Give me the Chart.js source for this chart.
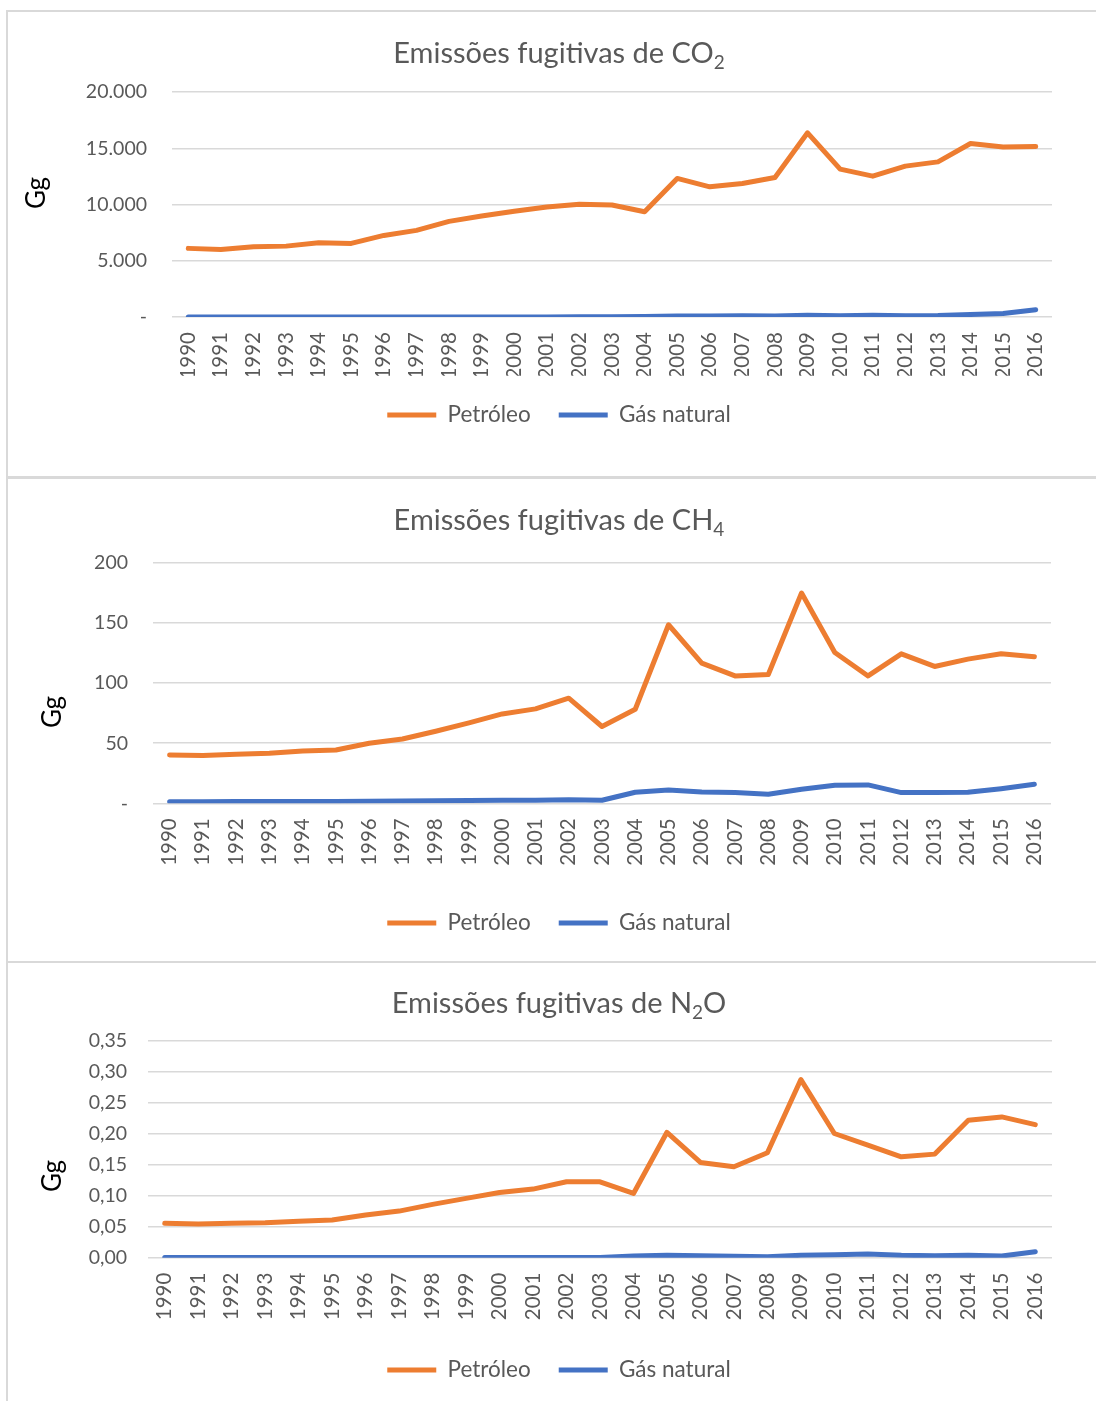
<!DOCTYPE html>
<html>
<head>
<meta charset="utf-8">
<script src="https://cdn.jsdelivr.net/npm/chart.js@4.4.1/dist/chart.umd.min.js"></script>
<style>
  html, body { margin: 0; padding: 0; background: #ffffff; overflow: hidden; width: 1096px; height: 1401px; }
  .panel { position: absolute; border: 2px solid #D9D9D9; box-sizing: border-box; background: #ffffff; }
  .panel canvas { position: absolute; left: 0; top: 0; }
</style>
</head>
<body>
<div class="panel" style="left:6px; top:10px; width:1106px; height:468px;"><canvas id="chartCO2"></canvas></div>
<div class="panel" style="left:6px; top:477px; width:1106px; height:486px;"><canvas id="chartCH4"></canvas></div>
<div class="panel" style="left:6px; top:961px; width:1106px; height:460px;"><canvas id="chartN2O"></canvas></div>
<script>
// Years on the category axis
const years = ['1990','1991','1992','1993','1994','1995','1996','1997','1998','1999',
               '2000','2001','2002','2003','2004','2005','2006','2007','2008','2009',
               '2010','2011','2012','2013','2014','2015','2016'];

// Fugitive CO2 emissions (Gg)
const co2Petroleo   = [6100, 6010, 6240, 6300, 6600, 6540, 7250, 7700, 8500, 8970,
                       9400, 9770, 10030, 9950, 9350, 12320, 11570, 11870, 12400, 16370,
                       13140, 12520, 13410, 13790, 15420, 15120, 15160];
const co2GasNatural = [10, 10, 10, 10, 10, 10, 10, 10, 10, 10,
                       10, 10, 15, 20, 50, 90, 80, 110, 90, 150,
                       120, 150, 120, 130, 230, 310, 640];
const co2TickLabels = ['-', '5.000', '10.000', '15.000', '20.000'];

// Fugitive CH4 emissions (Gg)
const ch4Petroleo   = [40.3, 39.7, 40.8, 41.6, 43.6, 44.4, 50.0, 53.5, 60.0, 67.0,
                       74.4, 78.6, 87.5, 63.9, 78.3, 148.6, 116.7, 106.0, 107.2, 175.0,
                       125.5, 106.0, 124.4, 113.9, 120.0, 124.4, 121.9];
const ch4GasNatural = [1.3, 1.3, 1.4, 1.4, 1.5, 1.5, 1.8, 1.9, 2.1, 2.3,
                       2.5, 2.6, 3.0, 2.5, 9.2, 11.1, 9.4, 8.9, 7.5, 11.7,
                       15.0, 15.3, 8.9, 8.9, 9.2, 12.2, 15.8];
const ch4TickLabels = ['-', '50', '100', '150', '200'];

// Fugitive N2O emissions (Gg)
const n2oPetroleo   = [0.0555, 0.0545, 0.0555, 0.0565, 0.0587, 0.0608, 0.0689, 0.0753, 0.0861, 0.0958,
                       0.1054, 0.1108, 0.1226, 0.1226, 0.1038, 0.2025, 0.1539, 0.1468, 0.1694, 0.2877,
                       0.2006, 0.1817, 0.1630, 0.1673, 0.2221, 0.2274, 0.2150];
const n2oGasNatural = [0.0005, 0.0005, 0.0005, 0.0005, 0.0005, 0.0005, 0.0005, 0.0005, 0.0005, 0.0005,
                       0.0005, 0.0005, 0.0005, 0.0005, 0.0027, 0.0038, 0.0032, 0.0022, 0.0016, 0.0038,
                       0.0048, 0.0059, 0.0038, 0.0032, 0.0038, 0.0027, 0.0097];
const n2oTickLabels = ['0,00', '0,05', '0,10', '0,15', '0,20', '0,25', '0,30', '0,35'];

const seriesNames = ['Petróleo', 'Gás natural'];

const ORANGE = '#ED7D31';
const BLUE = '#4472C4';
const TEXT_GRAY = '#595959';
const GRID = '#D9D9D9';
const FONT = 'Lato, "Open Sans", sans-serif';

// Draws the chart heading (with a subscript) and the rotated unit label
const panelText = {
  id: 'panelText',
  afterDraw(chart, args, opts) {
    const ctx = chart.ctx;
    ctx.save();
    const mainFont = `400 ${opts.titleSize}px ${FONT}`;
    const subFont = `400 ${opts.subSize}px ${FONT}`;
    ctx.font = mainFont;
    const w1 = ctx.measureText(opts.before).width;
    const w3 = ctx.measureText(opts.after).width;
    ctx.font = subFont;
    const w2 = ctx.measureText(opts.sub).width;
    const total = w1 + w2 + w3;
    let x = chart.width / 2 - total / 2;
    ctx.fillStyle = TEXT_GRAY;
    ctx.textBaseline = 'alphabetic';
    ctx.textAlign = 'left';
    ctx.font = mainFont;
    ctx.fillText(opts.before, x, opts.titleY);
    x += w1;
    ctx.font = subFont;
    ctx.fillText(opts.sub, x, opts.titleY + opts.subDrop);
    x += w2;
    ctx.font = mainFont;
    if (opts.after) ctx.fillText(opts.after, x, opts.titleY);
    // unit label, read bottom to top
    ctx.translate(opts.unitX, opts.unitY);
    ctx.rotate(-Math.PI / 2);
    ctx.fillStyle = '#000000';
    ctx.font = `400 ${opts.unitSize}px ${FONT}`;
    ctx.textAlign = 'center';
    ctx.textBaseline = 'middle';
    ctx.fillText('Gg', 0, 0);
    ctx.restore();
  }
};

function makeChart(id, w, h, petro, gas, yMax, yStep, tickLabels, geo, text) {
  const canvas = document.getElementById(id);
  canvas.width = w;
  canvas.height = h;
  canvas.style.width = w + 'px';
  canvas.style.height = h + 'px';
  return new Chart(canvas, {
    type: 'line',
    data: {
      labels: years,
      datasets: [
        { label: seriesNames[0], data: petro, borderColor: ORANGE, backgroundColor: ORANGE,
          pointBorderColor: ORANGE, pointBorderWidth: 5 },
        { label: seriesNames[1], data: gas, borderColor: BLUE, backgroundColor: BLUE,
          pointBorderColor: BLUE, pointBorderWidth: 5 }
      ]
    },
    options: {
      responsive: false,
      animation: false,
      devicePixelRatio: 1,
      elements: {
        line: { borderWidth: 5, tension: 0, borderCapStyle: 'round', borderJoinStyle: 'round', fill: false },
        point: { radius: 0, hoverRadius: 0 }
      },
      // equal side padding keeps the legend centred on the panel
      layout: { padding: { top: geo.padTop, right: geo.padSide, bottom: geo.padBottom, left: geo.padSide } },
      scales: {
        x: {
          offset: true,
          grid: { display: false, drawTicks: false },
          border: { display: false },
          ticks: {
            minRotation: 90, maxRotation: 90, autoSkip: false,
            padding: geo.xPad,
            color: TEXT_GRAY,
            font: { family: FONT, size: 20.5 }
          },
          afterFit(scale) { scale.height = geo.xHeight; }
        },
        y: {
          min: 0,
          max: yMax,
          grid: { color: GRID, lineWidth: 1.5, drawTicks: false },
          border: { display: false },
          ticks: {
            stepSize: yStep,
            padding: geo.yPad,
            color: TEXT_GRAY,
            font: { family: FONT, size: 19.5 },
            callback: (value, index) => tickLabels[index]
          },
          afterFit(scale) { scale.width = geo.plotLeft - geo.padSide; }
        }
      },
      plugins: {
        legend: {
          position: 'bottom',
          labels: {
            usePointStyle: true,
            pointStyle: 'line',
            pointStyleWidth: 49,
            padding: 28,
            color: TEXT_GRAY,
            font: { family: FONT, size: 22.5 }
          }
        },
        tooltip: { enabled: false },
        panelText: text
      }
    },
    plugins: [panelText]
  });
}

makeChart('chartCO2', 1102, 464, co2Petroleo, co2GasNatural, 20000, 5000, co2TickLabels,
  { padTop: 80, padSide: 58, padBottom: 39.75, xHeight: 58.75, xPad: 15, yPad: 25, plotLeft: 164 },
  { before: 'Emissões fugitivas de CO', sub: '2', after: '', titleY: 51, titleSize: 29, subSize: 19, subDrop: 6,
    unitX: 29, unitY: 181, unitSize: 26 });

makeChart('chartCH4', 1102, 482, ch4Petroleo, ch4GasNatural, 200, 50, ch4TickLabels,
  { padTop: 84, padSide: 59, padBottom: 16.75, xHeight: 80.45, xPad: 15, yPad: 25, plotLeft: 145 },
  { before: 'Emissões fugitivas de CH', sub: '4', after: '', titleY: 51, titleSize: 29, subSize: 19, subDrop: 6,
    unitX: 45, unitY: 233, unitSize: 26 });

makeChart('chartN2O', 1102, 456, n2oPetroleo, n2oGasNatural, 0.35, 0.05, n2oTickLabels,
  { padTop: 78, padSide: 58, padBottom: 27.75, xHeight: 73.05, xPad: 15, yPad: 21, plotLeft: 140 },
  { before: 'Emissões fugitivas de N', sub: '2', after: 'O', titleY: 50, titleSize: 29, subSize: 19, subDrop: 6,
    unitX: 45, unitY: 213, unitSize: 26 });
</script>
</body>
</html>
